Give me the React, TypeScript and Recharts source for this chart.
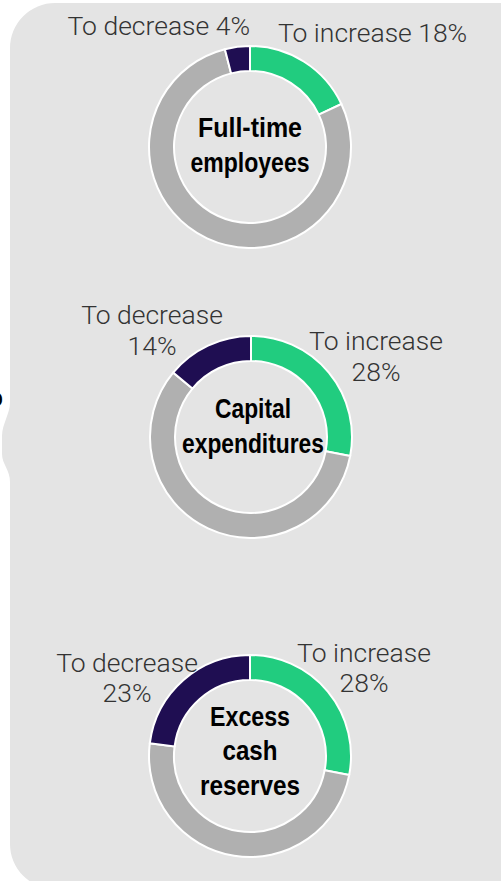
import { PieChart, Pie, Cell } from 'recharts';

// Survey: planned change over the next 12 months (% of respondents)
const topics = ['Full-time employees', 'Capital expenditures', 'Excess cash reserves'];
const increasePct = [18, 28, 28];
const unchangedPct = [78, 58, 49];
const decreasePct = [4, 14, 23];
const titleLines = [['Full-time', 'employees'], ['Capital', 'expenditures'], ['Excess', 'cash', 'reserves']];
const increaseText = [['To increase 18%'], ['To increase', '28%'], ['To increase', '28%']];
const decreaseText = [['To decrease 4%'], ['To decrease', '14%'], ['To decrease', '23%']];

const COLORS = { increase: '#21cc7f', unchanged: '#b0b0b0', decrease: '#1f0e52' };
const PANEL = '#e4e4e4';
const LABEL_FONT = 'Roboto, "Liberation Sans", sans-serif';
const TITLE_FONT = '"Liberation Sans", Arial, sans-serif';

// layout per donut (title widths squeeze the bold face into a condensed look)
const layout = [
  {
    cx: 250, cy: 147, titleX: 250, titleY: [137, 172], titleW: [104, 119],
    dec: { x: 250, anchor: 'end', y: [35] },
    inc: { x: 278, anchor: 'start', y: [42] },
  },
  {
    cx: 251, cy: 437, titleX: 253, titleY: [418, 453], titleW: [76, 142],
    dec: { x: 152, anchor: 'middle', y: [324, 355] },
    inc: { x: 376, anchor: 'middle', y: [350, 381] },
  },
  {
    cx: 250, cy: 756, titleX: 250, titleY: [726, 760, 795], titleW: [80, 55, 100],
    dec: { x: 127, anchor: 'middle', y: [672, 702] },
    inc: { x: 364, anchor: 'middle', y: [662, 692] },
  },
];

const W = 501;
const H = 881;

function donutData(i: number) {
  return [
    { name: 'To increase', value: increasePct[i], key: 'increase' },
    { name: 'No change', value: unchangedPct[i], key: 'unchanged' },
    { name: 'To decrease', value: decreasePct[i], key: 'decrease' },
  ];
}

function Lines({ lines, x, ys, anchor }: { lines: string[]; x: number; ys: number[]; anchor: string }) {
  return (
    <>
      {lines.map((line, j) => (
        <text
          key={j}
          x={x}
          y={ys[j]}
          textAnchor={anchor as any}
          fontFamily={LABEL_FONT}
          fontWeight={300}
          fontSize={26.5}
          fill="#333"
        >
          {line}
        </text>
      ))}
    </>
  );
}

export default function App() {
  return (
    <div style={{ position: 'absolute', left: 0, top: 0, width: W, height: H, overflow: 'hidden', background: '#fff' }}>
      <svg width={W} height={H} style={{ position: 'absolute', left: 0, top: 0 }}>
        <path
          d="M10,48 A45,45 0 0 1 55,3 L520,3 L520,889 L55,889 A45,45 0 0 1 10,844 L10,482 C10,470 2,464 2,454 L2,436 C2,424 10,414 10,402 Z"
          fill={PANEL}
        />
        <text x={3} y={407} textAnchor="end" fontFamily={TITLE_FONT} fontWeight={700} fontSize={28} fill="#000">
          o
        </text>
      </svg>
      <div style={{ position: 'absolute', left: 0, top: 0 }}>
        <PieChart width={W} height={H} margin={{ top: 0, right: 0, bottom: 0, left: 0 }}>
          {topics.map((t, i) => (
            <Pie
              key={t}
              data={donutData(i)}
              dataKey="value"
              nameKey="name"
              cx={layout[i].cx}
              cy={layout[i].cy}
              innerRadius={76}
              outerRadius={101}
              startAngle={90}
              endAngle={-270}
              stroke="#ffffff"
              strokeWidth={2}
              isAnimationActive={false}
            >
              {donutData(i).map((d) => (
                <Cell key={d.key} fill={COLORS[d.key as keyof typeof COLORS]} />
              ))}
            </Pie>
          ))}
        </PieChart>
      </div>
      <svg width={W} height={H} style={{ position: 'absolute', left: 0, top: 0, pointerEvents: 'none' }}>
        {layout.map((l, i) => (
          <g key={i}>
            {titleLines[i].map((line, j) => (
              <text
                key={'t' + j}
                x={l.titleX}
                y={l.titleY[j]}
                textAnchor="middle"
                textLength={l.titleW[j]}
                lengthAdjust="spacingAndGlyphs"
                fontFamily={TITLE_FONT}
                fontWeight={700}
                fontSize={28}
                fill="#000"
              >
                {line}
              </text>
            ))}
            <Lines lines={decreaseText[i]} x={l.dec.x} ys={l.dec.y} anchor={l.dec.anchor} />
            <Lines lines={increaseText[i]} x={l.inc.x} ys={l.inc.y} anchor={l.inc.anchor} />
          </g>
        ))}
      </svg>
    </div>
  );
}
